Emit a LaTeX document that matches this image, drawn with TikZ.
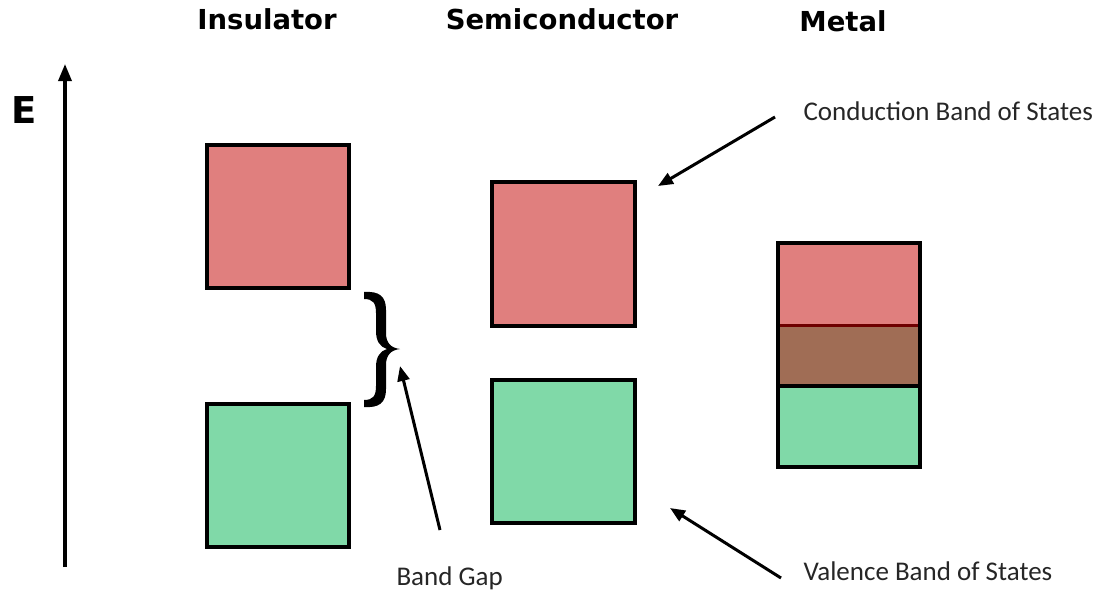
\documentclass[tikz,border=0pt]{standalone}
\usepackage{fontspec}
\setmainfont{Carlito}
\newfontfamily\titlefont{DejaVu Sans}
\usetikzlibrary{arrows.meta}
\definecolor{condred}{HTML}{E07F7E}
\definecolor{valgreen}{HTML}{80D9A8}
\definecolor{overlap}{HTML}{A06D55}
\definecolor{darkline}{HTML}{6E0000}
\tikzset{
  band/.style={draw=black, line width=3.5pt},
  heading/.style={font=\titlefont\bfseries\fontsize{27.5}{30}\selectfont, anchor=base},
  label/.style={font=\fontsize{27}{30}\selectfont, anchor=base west, text=black!85},
  pointer/.style={line width=3pt, -{Triangle[length=15pt,width=12pt]}},
}
\begin{document}
\begin{tikzpicture}[x=1pt, y=-1pt]
  \useasboundingbox (0,0) rectangle (1105,592);

  % energy axis
  \coordinate (axbot) at (65,567);
  \coordinate (axtop) at (65,64);
  \draw[line width=3.3pt, -{Triangle[length=17pt,width=13pt]}] (axbot) -- (axtop);
  \node[font=\titlefont\bfseries\fontsize{37}{40}\selectfont] (E) at (24,110) {E};

  % headings
  \node[heading] (hIns) at (267,29) {Insulator};
  \node[heading] (hSemi) at (562,29) {Semiconductor};
  \node[heading] (hMet) at (843,31) {Metal};

  % insulator bands
  \draw[band, fill=condred] (207,145) rectangle (349,288);
  \draw[band, fill=valgreen] (207,404) rectangle (349,547);

  % semiconductor bands
  \draw[band, fill=condred] (492,182) rectangle (635,326);
  \draw[band, fill=valgreen] (492,380) rectangle (635,523);

  % metal: overlapping bands
  \fill[condred] (778,243) rectangle (920,325);
  \fill[overlap] (778,325) rectangle (920,386);
  \fill[valgreen] (778,386) rectangle (920,467);
  \draw[darkline, line width=3pt] (778,325) -- (920,325);
  \draw[black, line width=4.5pt] (778,386) -- (920,386);
  \draw[black, line width=4.5pt] (778,243) rectangle (920,467);

  % band gap brace
  \fill[black]
    (364,292) .. controls (379,291) and (386,296) .. (386,310)
    -- (386,333) .. controls (386,343) and (391,348) .. (400,349)
    .. controls (391,350) and (386,355) .. (386,365)
    -- (386,389) .. controls (386,403) and (379,408) .. (364,407)
    -- (364,400) .. controls (373,400) and (376,396) .. (376,386)
    -- (376,367) .. controls (376,357) and (380,351) .. (387,349)
    .. controls (380,347) and (376,341) .. (376,331)
    -- (376,313) .. controls (376,303) and (373,299) .. (364,299) -- cycle;

  % labels and pointers
  \node[label] (gap) at (393,585) {Band Gap};
  \coordinate (gapTail) at (440,530);
  \coordinate (gapTip) at (400,366);
  \draw[pointer] (gapTail) -- (gapTip);

  \node[label] (cb) at (800,120) {Conduction Band of States};
  \coordinate (cbTail) at (775,117);
  \coordinate (cbTip) at (658,186);
  \draw[pointer] (cbTail) -- (cbTip);

  \node[label] (vb) at (800,580) {Valence Band of States};
  \coordinate (vbTail) at (781,578);
  \coordinate (vbTip) at (670,508);
  \draw[pointer] (vbTail) -- (vbTip);
\end{tikzpicture}
\end{document}
